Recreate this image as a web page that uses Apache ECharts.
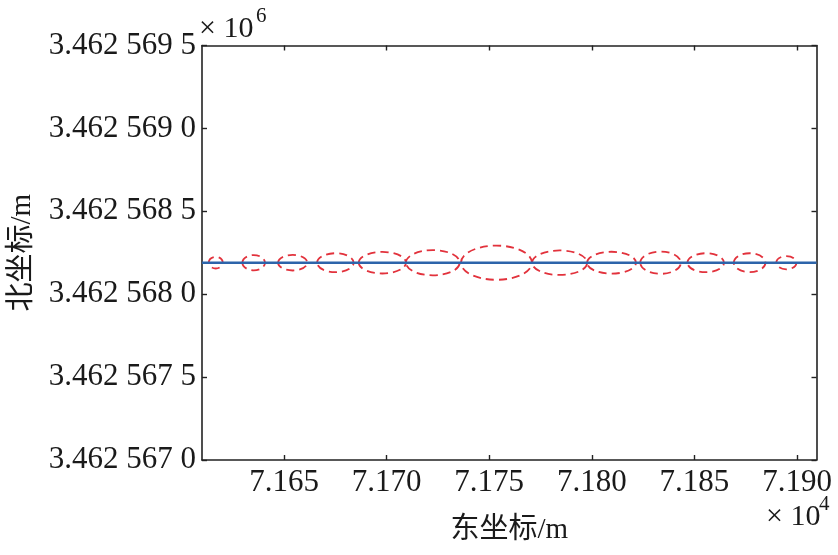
<!DOCTYPE html>
<html>
<head>
<meta charset="utf-8">
<script src="https://cdn.jsdelivr.net/npm/echarts@6/dist/echarts.min.js"></script>
<style>
html, body { margin: 0; padding: 0; background: #fff; }
#chart { width: 838px; height: 555px; }
</style>
</head>
<body>
<div id="chart"></div>
<script>
// track line (east / north, metres)
var lineEast = [71610, 71909.5];
var lineNorth = [3462568.19, 3462568.19];

// error ellipses: centre and semi-axes (metres)
var ellipseEast = [71616.7, 71635.2, 71654.2, 71675.0, 71697.9, 71722.5, 71753.5, 71784.3, 71809.6, 71833.5, 71855.5, 71876.9, 71894.8];
var ellipseNorth = [3462568.19, 3462568.19, 3462568.19, 3462568.19, 3462568.19, 3462568.19, 3462568.19, 3462568.19, 3462568.19, 3462568.19, 3462568.19, 3462568.19, 3462568.19];
var ellipseRx = [3.4, 5.5, 7.1, 8.9, 11.5, 13.1, 17.3, 13.4, 11.9, 9.9, 8.9, 7.7, 4.9];
var ellipseRy = [0.035, 0.046, 0.047, 0.057, 0.065, 0.076, 0.103, 0.074, 0.066, 0.067, 0.057, 0.057, 0.040];

// tick values
var xTicks = [71650, 71700, 71750, 71800, 71850, 71900];
var yTicks = [3462567.0, 3462567.5, 3462568.0, 3462568.5, 3462569.0, 3462569.5];

var serif = "Liberation Serif, Noto Sans CJK SC, serif";
var frameColor = '#222';
var textColor = '#1a1a1a';

var chart = echarts.init(document.getElementById('chart'));

var lineData = [];
for (var i = 0; i < lineEast.length; i++) {
	lineData.push([lineEast[i], lineNorth[i]]);
}
var ellData = [];
for (var j = 0; j < ellipseEast.length; j++) {
	ellData.push([ellipseEast[j], ellipseNorth[j], ellipseRx[j], ellipseRy[j]]);
}

var fmtY = function(v){
	var s = (v / 1e6).toFixed(7);
	return s.slice(0, 5) + ' ' + s.slice(5, 8) + ' ' + s.slice(8);
};
var fmtX = function(v){
	return (v / 1e4).toFixed(3);
};

var axisLineStyle = {show: true, onZero: false, lineStyle: {color: frameColor, width: 1.6}};

var option = {
	animation: false,
	backgroundColor: '#fff',
	grid: {left: 199.5, top: 45.5, right: 21.5, bottom: 95},
	xAxis: [{
		type: 'value',
		position: 'bottom',
		min: 71610,
		max: 71909.5,
		axisLine: axisLineStyle,
		axisTick: {show: true, inside: true, length: 5, lineStyle: {color: frameColor, width: 1.4}, customValues: xTicks},
		axisLabel: {customValues: xTicks, formatter: fmtX, color: textColor, fontFamily: serif, fontSize: 31, margin: 7},
		splitLine: {show: false},
		name: '东坐标/m',
		nameLocation: 'middle',
		nameGap: 56,
		nameTextStyle: {color: textColor, fontFamily: serif, fontSize: 29}
	}, {
		type: 'value',
		position: 'top',
		min: 71610,
		max: 71909.5,
		axisLine: axisLineStyle,
		axisTick: {show: true, inside: true, length: 5, lineStyle: {color: frameColor, width: 1.4}, customValues: xTicks},
		axisLabel: {show: false},
		splitLine: {show: false}
	}],
	yAxis: [{
		type: 'value',
		position: 'left',
		min: yTicks[0],
		max: yTicks[yTicks.length - 1],
		interval: 0.5,
		axisLine: axisLineStyle,
		axisTick: {show: true, inside: true, length: 5, lineStyle: {color: frameColor, width: 1.4}, customValues: yTicks},
		axisLabel: {customValues: yTicks, formatter: fmtY, color: textColor, fontFamily: serif, fontSize: 31, margin: 6},
		splitLine: {show: false},
		name: '北坐标/m',
		nameLocation: 'middle',
		nameGap: 165,
		nameTextStyle: {color: textColor, fontFamily: serif, fontSize: 29}
	}, {
		type: 'value',
		position: 'right',
		min: yTicks[0],
		max: yTicks[yTicks.length - 1],
		interval: 0.5,
		axisLine: axisLineStyle,
		axisTick: {show: true, inside: true, length: 5, lineStyle: {color: frameColor, width: 1.4}, customValues: yTicks},
		axisLabel: {show: false},
		splitLine: {show: false}
	}],
	graphic: [
		{type: 'text', left: 199, top: 14, style: {text: '× 10', fill: textColor, font: '30px ' + serif}},
		{type: 'text', left: 256, top: 6, style: {text: '6', fill: textColor, font: '21px ' + serif}},
		{type: 'text', left: 766, top: 502, style: {text: '× 10', fill: textColor, font: '30px ' + serif}},
		{type: 'text', left: 819, top: 494, style: {text: '4', fill: textColor, font: '21px ' + serif}}
	],
	series: [{
		type: 'custom',
		coordinateSystem: 'cartesian2d',
		xAxisIndex: 0,
		yAxisIndex: 0,
		data: ellData,
		renderItem: function(params, api){
			var c = api.coord([api.value(0), api.value(1)]);
			var s = api.size([api.value(2), api.value(3)]);
			return {
				type: 'ellipse',
				shape: {cx: c[0], cy: c[1], rx: s[0], ry: s[1]},
				style: {fill: 'none', stroke: '#e2323c', lineWidth: 1.8, lineDash: [8, 5]}
			};
		},
		z: 2
	}, {
		type: 'line',
		xAxisIndex: 0,
		yAxisIndex: 0,
		data: lineData,
		showSymbol: false,
		lineStyle: {color: '#2d64aa', width: 2.6},
		z: 3
	}]
};
chart.setOption(option);
</script>
</body>
</html>
